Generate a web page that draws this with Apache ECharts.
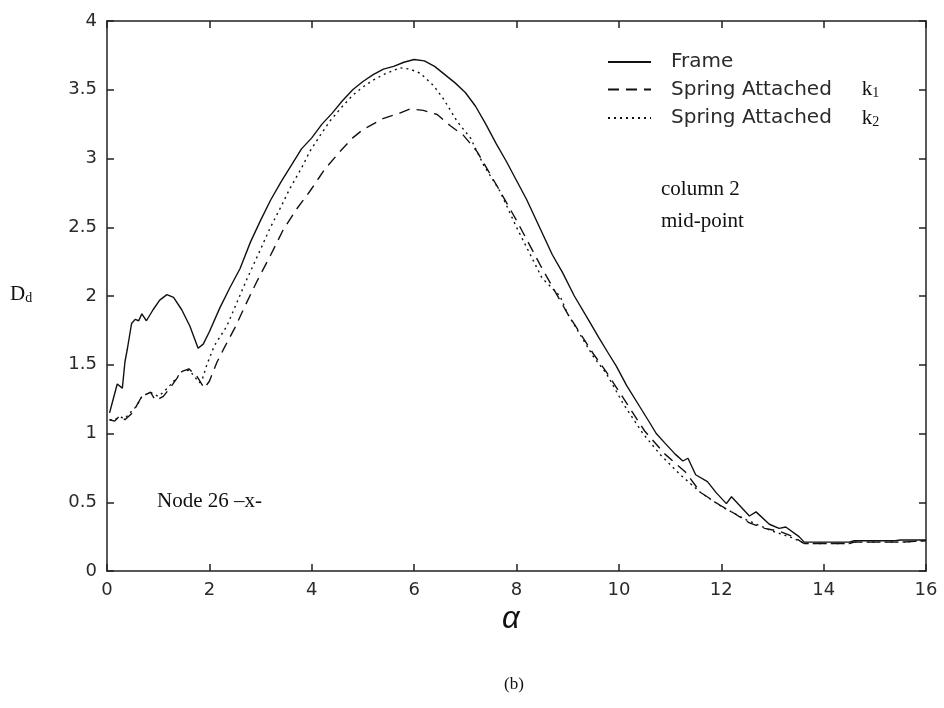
<!DOCTYPE html>
<html>
<head>
<meta charset="utf-8">
<script src="https://cdn.jsdelivr.net/npm/echarts@6/dist/echarts.min.js"></script>
<style>
html,body{margin:0;padding:0;background:#fff;}
#chart{width:944px;height:708px;}
</style>
</head>
<body>
<div id="chart"></div>
<script>
// ---- data ----
const xTicks = [0, 2, 4, 6, 8, 10, 12, 14, 16];
const yTicks = [0, 0.5, 1, 1.5, 2, 2.5, 3, 3.5, 4];

const frameX = [0.05,0.1,0.2,0.3,0.35,0.4,0.48,0.55,0.62,0.68,0.77,0.9,1.03,1.17,1.3,1.46,1.62,1.78,1.88,2.0,2.2,2.4,2.6,2.8,3.0,3.2,3.4,3.6,3.8,4.0,4.2,4.4,4.6,4.8,5.0,5.2,5.4,5.6,5.8,6.0,6.2,6.4,6.6,6.8,7.0,7.2,7.4,7.6,7.8,8.0,8.2,8.45,8.7,8.9,9.13,9.4,9.62,9.8,9.95,10.15,10.4,10.6,10.73,10.9,11.1,11.25,11.35,11.5,11.73,11.9,12.1,12.2,12.4,12.55,12.68,12.94,13.13,13.26,13.52,13.62,13.85,14.2,14.5,14.6,15.0,15.4,15.5,16.0];
const frameY = [1.15,1.22,1.36,1.33,1.52,1.62,1.80,1.83,1.82,1.87,1.82,1.90,1.97,2.01,1.99,1.90,1.78,1.62,1.65,1.74,1.91,2.06,2.20,2.39,2.55,2.70,2.83,2.95,3.07,3.15,3.25,3.33,3.42,3.50,3.56,3.61,3.65,3.67,3.70,3.72,3.71,3.67,3.61,3.55,3.48,3.38,3.25,3.11,2.98,2.84,2.70,2.50,2.30,2.17,2.00,1.83,1.69,1.58,1.49,1.35,1.20,1.08,1.00,0.93,0.85,0.80,0.82,0.70,0.65,0.57,0.49,0.54,0.46,0.40,0.43,0.34,0.31,0.32,0.25,0.21,0.21,0.21,0.21,0.22,0.22,0.22,0.225,0.225];

const k1X = [0.05,0.15,0.25,0.35,0.5,0.68,0.85,0.95,1.1,1.23,1.46,1.6,1.75,1.9,2.0,2.15,2.3,2.5,2.7,2.92,3.2,3.44,3.7,3.96,4.25,4.55,4.8,5.0,5.39,5.72,5.92,6.18,6.45,6.7,6.96,7.23,7.62,8.0,8.5,9.0,9.5,9.75,10.1,10.5,10.9,11.3,11.6,11.97,12.25,12.55,12.85,13.13,13.4,13.62,14.5,14.6,15.5,16.0];
const k1Y = [1.10,1.09,1.13,1.10,1.15,1.27,1.30,1.24,1.27,1.33,1.45,1.47,1.42,1.33,1.38,1.52,1.63,1.77,1.93,2.10,2.30,2.48,2.63,2.76,2.92,3.05,3.15,3.21,3.29,3.33,3.36,3.35,3.32,3.24,3.17,3.05,2.80,2.55,2.20,1.87,1.58,1.45,1.25,1.02,0.85,0.72,0.57,0.48,0.42,0.35,0.31,0.29,0.25,0.20,0.20,0.21,0.21,0.22];

const k2X = [0.05,0.15,0.25,0.35,0.45,0.58,0.68,0.85,1.0,1.1,1.23,1.35,1.46,1.6,1.7,1.8,1.85,1.95,2.1,2.34,2.5,2.73,3.0,3.18,3.4,3.57,3.8,3.96,4.15,4.35,4.6,4.8,5.0,5.2,5.4,5.6,5.72,5.92,6.12,6.38,6.58,6.84,7.1,7.36,7.68,8.0,8.5,8.85,9.0,9.5,9.75,10.08,10.47,10.8,11.2,11.6,12.0,12.5,13.0,13.4,13.62,14.5,14.6,15.5,16.0];
const k2Y = [1.10,1.10,1.12,1.11,1.15,1.20,1.27,1.30,1.27,1.30,1.35,1.40,1.45,1.46,1.42,1.37,1.38,1.50,1.64,1.78,1.92,2.12,2.34,2.49,2.65,2.78,2.93,3.05,3.16,3.27,3.38,3.46,3.52,3.57,3.61,3.64,3.66,3.65,3.62,3.53,3.43,3.27,3.15,2.95,2.76,2.50,2.13,2.00,1.87,1.56,1.44,1.22,1.00,0.85,0.70,0.57,0.47,0.37,0.29,0.24,0.20,0.20,0.21,0.21,0.22];

const seriesNames = ['Frame', 'Spring Attached k1', 'Spring Attached k2'];

// ---- chart ----
const chart = echarts.init(document.getElementById('chart'), null, {renderer: 'canvas'});
const pairs = (xs, ys) => xs.map((x, i) => [x, ys[i]]);
const sansFont = '"DejaVu Sans", Verdana, sans-serif';
const serifFont = '"Liberation Serif", "Times New Roman", serif';
const tickFont = {fontFamily: sansFont, fontSize: 18, color: '#2a2a2a'};
const axisLine = {show: true, onZero: false, lineStyle: {color: '#222', width: 1.5}};
const axisTick = {show: true, inside: true, length: 7, lineStyle: {color: '#222', width: 1.5}};

const option = {
  animation: false,
  backgroundColor: '#fff',
  grid: {left: 107, right: 18, top: 21, bottom: 137},
  legend: {
    orient: 'vertical',
    left: 607,
    top: 52,
    padding: 0,
    itemWidth: 43,
    itemHeight: 10,
    itemGap: 7,
    data: seriesNames,
    itemStyle: {opacity: 0},
    textStyle: {fontFamily: sansFont, fontSize: 20, color: '#2a2a2a', padding: [0, 0, 0, 15],
      rich: {
        k: {fontFamily: serifFont, fontSize: 21, color: '#111', padding: [0, 0, 0, 30]},
        s: {fontFamily: serifFont, fontSize: 14, color: '#111', padding: [8, 0, 0, 0]}
      }
    },
    formatter: function (name) {
      if (name === 'Frame') return 'Frame';
      const n = name.slice(-1);
      return 'Spring Attached{k|k}{s|' + n + '}';
    }
  },
  xAxis: [
    {type: 'value', min: 0, max: 16, interval: 2, position: 'bottom',
     axisLine: axisLine, axisTick: axisTick, splitLine: {show: false},
     axisLabel: Object.assign({margin: 10}, tickFont)},
    {type: 'value', min: 0, max: 16, interval: 2, position: 'top',
     axisLine: axisLine, axisTick: axisTick, splitLine: {show: false}, axisLabel: {show: false}}
  ],
  yAxis: [
    {type: 'value', min: 0, max: 4, interval: 0.5, position: 'left',
     axisLine: axisLine, axisTick: axisTick, splitLine: {show: false},
     axisLabel: Object.assign({margin: 10}, tickFont)},
    {type: 'value', min: 0, max: 4, interval: 0.5, position: 'right',
     axisLine: axisLine, axisTick: axisTick, splitLine: {show: false}, axisLabel: {show: false}}
  ],
  series: [
    {name: seriesNames[0], type: 'line', showSymbol: false, symbol: 'none',
     data: pairs(frameX, frameY),
     lineStyle: {color: '#111', width: 1.4, type: 'solid'}, itemStyle: {color: '#111'}},
    {name: seriesNames[1], type: 'line', showSymbol: false, symbol: 'none',
     data: pairs(k1X, k1Y),
     lineStyle: {color: '#111', width: 1.4, type: [11, 7]}, itemStyle: {color: '#111'}},
    {name: seriesNames[2], type: 'line', showSymbol: false, symbol: 'none',
     data: pairs(k2X, k2Y),
     lineStyle: {color: '#111', width: 1.4, type: [2, 4]}, itemStyle: {color: '#111'}}
  ],
  graphic: [
    {type: 'text', left: 661, top: 179, style: {text: 'column 2', font: '21px ' + serifFont, fill: '#111'}},
    {type: 'text', left: 661, top: 211, style: {text: 'mid-point', font: '21px ' + serifFont, fill: '#111'}},
    {type: 'text', left: 157, top: 491, style: {text: 'Node 26 \u2013x-', font: '21px ' + serifFont, fill: '#111'}},
    {type: 'text', left: 10, top: 284, style: {
      text: '{d|D}{s|d}',
      rich: {d: {font: '21px ' + serifFont, fill: '#111'},
             s: {font: '14px ' + serifFont, fill: '#111', padding: [7, 0, 0, 0]}}}},
    {type: 'text', left: 502, top: 604, style: {text: '\u03B1', font: 'italic 31px "Liberation Sans", Arial, sans-serif', fill: '#111'}},
    {type: 'text', left: 504, top: 676, style: {text: '(b)', font: '17px ' + serifFont, fill: '#111'}}
  ]
};
chart.setOption(option);
</script>
</body>
</html>
